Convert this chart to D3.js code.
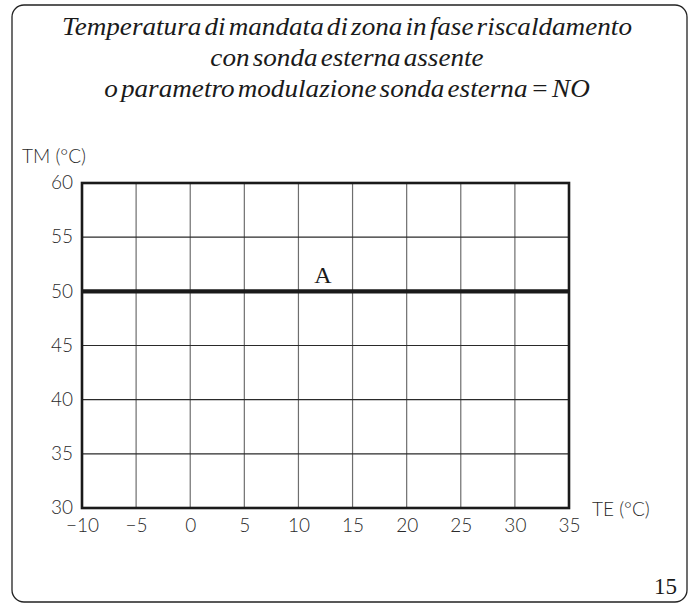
<!DOCTYPE html>
<html>
<head>
<meta charset="utf-8">
<script src="https://cdn.jsdelivr.net/npm/d3@7"></script>
<style>
  body { margin: 0; background: #fff; }
  .tick-label { font-family: "Lato", "DejaVu Sans", sans-serif; font-weight: 300; fill: #2a2a2a; }
  .title { font-family: "Liberation Serif", "Times New Roman", serif; font-style: italic; fill: #1a1a1a; word-spacing: -3.5px; }
</style>
</head>
<body>
<div id="chart"></div>
<script>
// chart size
const width = 697;
const height = 606;
const margin = {left: 82, right: 128, top: 183, bottom: 98};

// data
const titleLines = [
  "Temperatura di mandata di zona in fase riscaldamento",
  "con sonda esterna assente",
  "o parametro modulazione sonda esterna = NO"
];
const xTicks = [-10, -5, 0, 5, 10, 15, 20, 25, 30, 35];
const yTicks = [30, 35, 40, 45, 50, 55, 60];
const teValues = [-10, 35];   // outside temperature
const tmValues = [50, 50];    // flow temperature (fixed)

const svg = d3.select("#chart")
  .append("svg")
  .attr("width", width)
  .attr("height", height);

// outer rounded frame
svg.append("rect")
  .attr("x", 12).attr("y", 5)
  .attr("width", 675).attr("height", 597)
  .attr("rx", 12).attr("ry", 12)
  .attr("fill", "none")
  .attr("stroke", "#222")
  .attr("stroke-width", 1.3);

// title lines, all squeezed by the same factor so the first line is ~570px
const titleY = [35, 66, 97];
const titles = svg.selectAll(".title")
  .data(titleLines)
  .enter()
  .append("text")
    .attr("class", "title")
    .attr("x", 0)
    .attr("y", 0)
    .attr("text-anchor", "middle")
    .attr("font-size", "26px")
    .text(d => d);
const k = 570 / titles.node().getComputedTextLength();
titles.attr("transform", (d, i) => `translate(347,${titleY[i]}) scale(${k},1)`);

// scales
const xScale = d3.scaleLinear()
  .domain([-10, 35])
  .range([margin.left, width - margin.right]);
const yScale = d3.scaleLinear()
  .domain([30, 60])
  .range([height - margin.bottom, margin.top]);

// vertical grid
svg.append("g")
  .selectAll("line")
  .data(xTicks.slice(1, -1))
  .enter()
  .append("line")
    .attr("x1", d => xScale(d)).attr("x2", d => xScale(d))
    .attr("y1", yScale(30)).attr("y2", yScale(60))
    .attr("stroke", "#6e6e6e")
    .attr("stroke-width", 1.2);

// horizontal grid
svg.append("g")
  .selectAll("line")
  .data(yTicks.slice(1, -1))
  .enter()
  .append("line")
    .attr("x1", xScale(-10)).attr("x2", xScale(35))
    .attr("y1", d => yScale(d)).attr("y2", d => yScale(d))
    .attr("stroke", "#2a2a2a")
    .attr("stroke-width", 1.1);

// plot box
svg.append("rect")
  .attr("x", xScale(-10))
  .attr("y", yScale(60))
  .attr("width", xScale(35) - xScale(-10))
  .attr("height", yScale(30) - yScale(60))
  .attr("fill", "none")
  .attr("stroke", "#1a1a1a")
  .attr("stroke-width", 2.6);

// y axis labels
svg.append("g")
  .attr("transform", `translate(${xScale(-10) - 9},0)`)
  .call(d3.axisLeft(yScale).tickValues(yTicks).tickSize(0).tickPadding(0))
  .call(g => g.select(".domain").remove())
  .selectAll("text")
    .attr("class", "tick-label")
    .attr("font-size", "19px")
    .attr("dy", "0.3em");

// x axis labels
svg.append("g")
  .attr("transform", `translate(0,${yScale(30) + 10})`)
  .call(d3.axisBottom(xScale).tickValues(xTicks).tickSize(0).tickPadding(0)
    .tickFormat(d => d < 0 ? "\u2212" + Math.abs(d) : d))
  .call(g => g.select(".domain").remove())
  .selectAll("text")
    .attr("class", "tick-label")
    .attr("font-size", "19px")
    .attr("dy", "0.75em");

// axis names
svg.append("text")
  .attr("class", "tick-label")
  .attr("x", 22).attr("y", 163)
  .attr("font-size", "19px")
  .text("TM (°C)");
svg.append("text")
  .attr("class", "tick-label")
  .attr("x", 592).attr("y", 516)
  .attr("font-size", "19px")
  .text("TE (°C)");

// fixed flow temperature line
const line = d3.line()
  .x(d => xScale(d[0]))
  .y(d => yScale(d[1]));
svg.append("path")
  .datum(d3.zip(teValues, tmValues))
  .attr("d", line)
  .attr("fill", "none")
  .attr("stroke", "#1a1a1a")
  .attr("stroke-width", 4.2);

// label A
svg.append("text")
  .attr("x", 323).attr("y", 283)
  .attr("text-anchor", "middle")
  .attr("font-family", "Liberation Serif, serif")
  .attr("font-size", "24px")
  .attr("fill", "#1a1a1a")
  .text("A");

// figure number
svg.append("text")
  .attr("x", 677).attr("y", 594)
  .attr("text-anchor", "end")
  .attr("font-family", "Liberation Serif, serif")
  .attr("font-size", "23px")
  .attr("fill", "#1a1a1a")
  .text("15");
</script>
</body>
</html>
